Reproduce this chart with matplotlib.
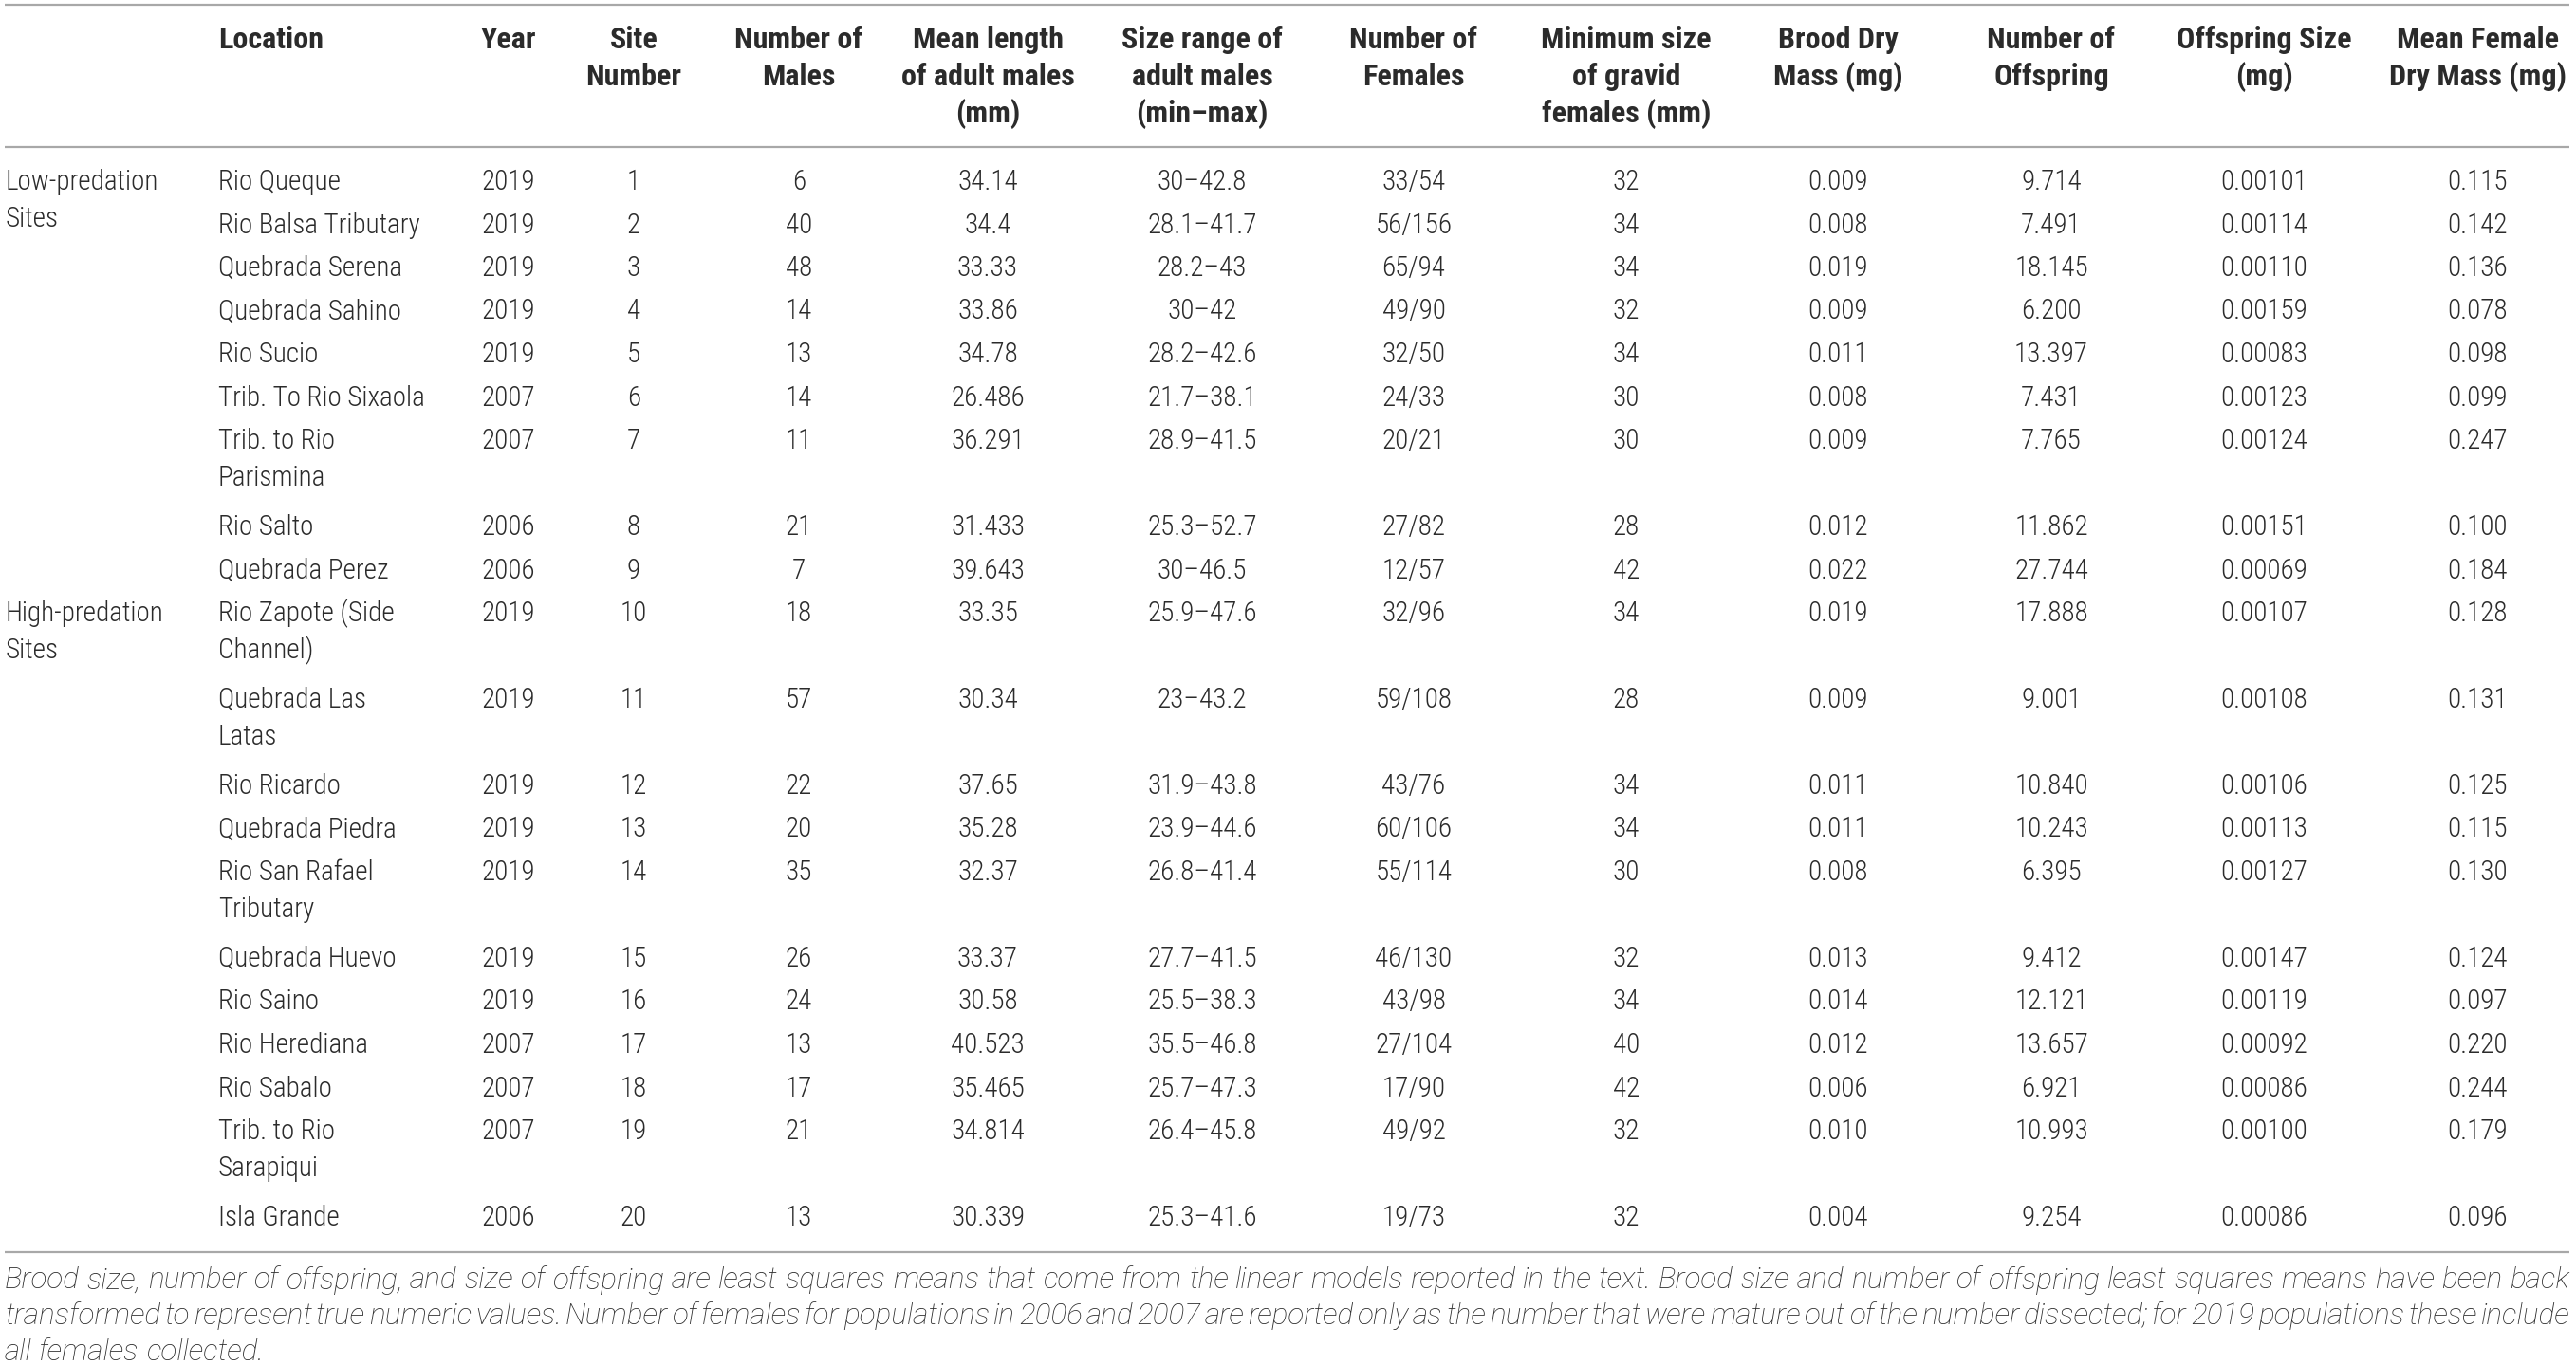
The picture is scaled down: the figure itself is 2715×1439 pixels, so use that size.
import matplotlib
matplotlib.use("Agg")
import matplotlib.pyplot as plt

plt.rcParams['font.family'] = ['Roboto Condensed', 'Roboto', 'DejaVu Sans']

# table content
headers = ["Location", "Year", "Site\nNumber", "Number of\nMales",
           "Mean length\nof adult males\n(mm)", "Size range of\nadult males\n(min–max)",
           "Number of\nFemales", "Minimum size\nof gravid\nfemales (mm)",
           "Brood Dry\nMass (mg)", "Number of\nOffspring", "Offspring Size\n(mg)",
           "Mean Female\nDry Mass (mg)"]

groups = ["Low-predation\nSites", "High-predation\nSites"]
group_start = [0, 9]

locations = ["Rio Queque", "Rio Balsa Tributary", "Quebrada Serena", "Quebrada Sahino",
             "Rio Sucio", "Trib. To Rio Sixaola", "Trib. to Rio\nParismina", "Rio Salto",
             "Quebrada Perez", "Rio Zapote (Side\nChannel)", "Quebrada Las\nLatas",
             "Rio Ricardo", "Quebrada Piedra", "Rio San Rafael\nTributary", "Quebrada Huevo",
             "Rio Saino", "Rio Herediana", "Rio Sabalo", "Trib. to Rio\nSarapiqui", "Isla Grande"]
years = [2019, 2019, 2019, 2019, 2019, 2007, 2007, 2006, 2006, 2019,
         2019, 2019, 2019, 2019, 2019, 2019, 2007, 2007, 2007, 2006]
site_no = [1, 2, 3, 4, 5, 6, 7, 8, 9, 10, 11, 12, 13, 14, 15, 16, 17, 18, 19, 20]
males = [6, 40, 48, 14, 13, 14, 11, 21, 7, 18, 57, 22, 20, 35, 26, 24, 13, 17, 21, 13]
mean_len = ["34.14", "34.4", "33.33", "33.86", "34.78", "26.486", "36.291", "31.433",
            "39.643", "33.35", "30.34", "37.65", "35.28", "32.37", "33.37", "30.58",
            "40.523", "35.465", "34.814", "30.339"]
size_range = ["30–42.8", "28.1–41.7", "28.2–43", "30–42", "28.2–42.6", "21.7–38.1",
              "28.9–41.5", "25.3–52.7", "30–46.5", "25.9–47.6", "23–43.2", "31.9–43.8",
              "23.9–44.6", "26.8–41.4", "27.7–41.5", "25.5–38.3", "35.5–46.8", "25.7–47.3",
              "26.4–45.8", "25.3–41.6"]
females = ["33/54", "56/156", "65/94", "49/90", "32/50", "24/33", "20/21", "27/82", "12/57",
           "32/96", "59/108", "43/76", "60/106", "55/114", "46/130", "43/98", "27/104",
           "17/90", "49/92", "19/73"]
min_size = [32, 34, 34, 32, 34, 30, 30, 28, 42, 34, 28, 34, 34, 30, 32, 34, 40, 42, 32, 32]
brood = ["0.009", "0.008", "0.019", "0.009", "0.011", "0.008", "0.009", "0.012", "0.022",
         "0.019", "0.009", "0.011", "0.011", "0.008", "0.013", "0.014", "0.012", "0.006",
         "0.010", "0.004"]
n_offspring = ["9.714", "7.491", "18.145", "6.200", "13.397", "7.431", "7.765", "11.862",
               "27.744", "17.888", "9.001", "10.840", "10.243", "6.395", "9.412", "12.121",
               "13.657", "6.921", "10.993", "9.254"]
offspring_size = ["0.00101", "0.00114", "0.00110", "0.00159", "0.00083", "0.00123", "0.00124",
                  "0.00151", "0.00069", "0.00107", "0.00108", "0.00106", "0.00113", "0.00127",
                  "0.00147", "0.00119", "0.00092", "0.00086", "0.00100", "0.00086"]
female_mass = ["0.115", "0.142", "0.136", "0.078", "0.098", "0.099", "0.247", "0.100", "0.184",
               "0.128", "0.131", "0.125", "0.115", "0.130", "0.124", "0.097", "0.220", "0.244",
               "0.179", "0.096"]

caption = ["Brood size, number of offspring, and size of offspring are least squares means that come from the linear models reported in the text. Brood size and number of offspring least squares means have been back",
           "transformed to represent true numeric values. Number of females for populations in 2006 and 2007 are reported only as the number that were mature out of the number dissected; for 2019 populations these include",
           "all females collected."]

columns = [locations, years, site_no, males, mean_len, size_range, females,
           min_size, brood, n_offspring, offspring_size, female_mass]

# layout (pixels)
W, H = 2715, 1439
col_x = [230, 536, 668, 842, 1041, 1267, 1490, 1714, 1937, 2162, 2386, 2611]
col_ha = ['left'] + ['center'] * 11
line_gap = 39
row_unit = 45.5
first_row = 192
txt = '#2b2b2b'
fs = 21
left, right = 5, 2708

fig = plt.figure(figsize=(W / 100, H / 100), dpi=100)
ax = fig.add_axes([0, 0, 1, 1])
ax.set_xlim(0, W)
ax.set_ylim(H, 0)
ax.axis('off')

# rules
for y in [5, 155, 1320]:
    ax.plot([left, right], [y, y], color='#a8a8a8', lw=1.6, solid_capstyle='butt')

# header
for x, ha, head in zip(col_x, col_ha, headers):
    for k, part in enumerate(head.split('\n')):
        ax.text(x, 42 + k * line_gap, part, ha=ha, va='center', fontsize=23,
                fontweight='bold', color=txt)

# rows
row_y = []
y = first_row
for loc in locations:
    row_y.append(y)
    y += row_unit * len(loc.split('\n'))

for x, ha, col in zip(col_x, col_ha, columns):
    for ry, val in zip(row_y, col):
        for k, part in enumerate(str(val).split('\n')):
            ax.text(x, ry + k * line_gap, part, ha=ha, va='center', fontsize=fs,
                    fontweight='light', color=txt)

for g, start in zip(groups, group_start):
    for k, part in enumerate(g.split('\n')):
        ax.text(6, row_y[start] + k * line_gap, part, ha='left', va='center',
                fontsize=fs, fontweight='light', color=txt)

# caption: pick a size so line 1 fits with normal spacing, then justify
cap_font = dict(family=['Roboto', 'DejaVu Sans'], style='italic', fontweight='light', color=txt)
fig.canvas.draw()
renderer = fig.canvas.get_renderer()
probe = ax.text(0, 0, caption[0], fontsize=20, **cap_font)
cap_fs = 20 * (right - left) / probe.get_window_extent(renderer).width
probe.remove()

cap_y = [1350, 1387, 1425]
for i, (line, cy) in enumerate(zip(caption, cap_y)):
    words = line.split()
    items = [ax.text(0, cy, w, ha='left', va='center', fontsize=cap_fs, **cap_font)
             for w in words]
    widths = [t.get_window_extent(renderer).width for t in items]
    space = cap_fs * 100 / 72 * 0.24
    if i < len(caption) - 1:
        space = (right - left - sum(widths)) / (len(words) - 1)
    x = left
    for t, w in zip(items, widths):
        t.set_x(x)
        x += w + space

fig.savefig('out.png', dpi=100)
